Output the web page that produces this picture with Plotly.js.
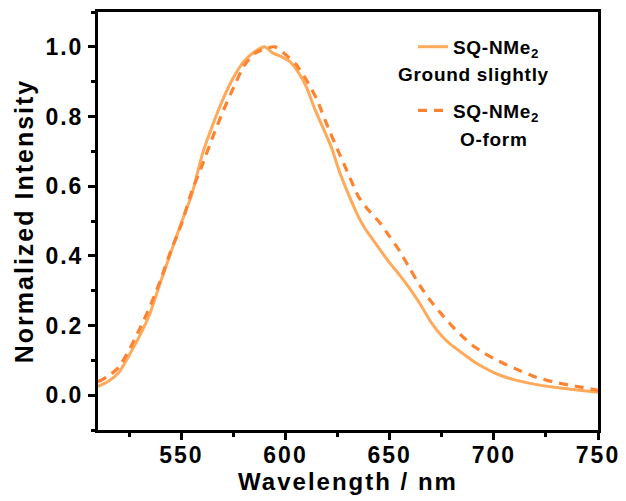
<!DOCTYPE html>
<html>
<head>
<meta charset="utf-8">
<script src="https://cdn.plot.ly/plotly-3.0.1.min.js"></script>
<style>
  html, body { margin: 0; padding: 0; background: #fff; }
  #chart { width: 626px; height: 501px; }
  .xtick text, .ytick text, text.xtitle, text.ytitle { letter-spacing: 2px; }
  text.legendtext, .annotation-text { letter-spacing: 0.7px; }
</style>
</head>
<body>
<div id="chart"></div>
<script>
// Series 1: SQ-NMe2 ground slightly (solid)
const groundWavelength = [510, 515, 520, 525, 530, 535, 540, 545, 550, 555, 560, 565, 570, 575, 580, 585, 590, 594, 598, 602, 606, 610, 614, 618, 622, 626, 630, 634, 638, 642, 646, 650, 655, 660, 665, 670, 675, 680, 685, 690, 695, 700, 705, 710, 720, 730, 740, 750];
const groundIntensity = [0.025, 0.04, 0.065, 0.115, 0.17, 0.235, 0.325, 0.41, 0.495, 0.575, 0.69, 0.775, 0.85, 0.912, 0.958, 0.985, 1.0, 0.982, 0.972, 0.958, 0.928, 0.885, 0.822, 0.768, 0.712, 0.64, 0.58, 0.525, 0.48, 0.446, 0.412, 0.38, 0.343, 0.303, 0.258, 0.208, 0.17, 0.142, 0.12, 0.098, 0.08, 0.065, 0.053, 0.044, 0.031, 0.022, 0.015, 0.008];

// Series 2: SQ-NMe2 O-form (dashed)
const oformWavelength = [510, 515, 520, 525, 530, 535, 540, 545, 550, 555, 560, 565, 570, 575, 580, 585, 590, 595, 600, 605, 610, 615, 620, 625, 630, 635, 640, 645, 650, 655, 660, 665, 670, 675, 680, 685, 690, 695, 700, 705, 710, 720, 730, 740, 750];
const oformIntensity = [0.038, 0.055, 0.08, 0.13, 0.19, 0.255, 0.33, 0.415, 0.49, 0.585, 0.66, 0.74, 0.815, 0.882, 0.945, 0.98, 0.995, 1.0, 0.978, 0.95, 0.905, 0.85, 0.775, 0.705, 0.637, 0.57, 0.53, 0.497, 0.455, 0.412, 0.36, 0.31, 0.268, 0.232, 0.198, 0.168, 0.142, 0.122, 0.105, 0.09, 0.077, 0.052, 0.036, 0.025, 0.014];

const seriesNames = ["SQ-NMe<sub>2</sub>", "SQ-NMe<sub>2</sub>"];
const seriesSubLabels = ["Ground slightly", "O-form"];
const xTickVals = [550, 600, 650, 700, 750];
const yTickVals = [0.0, 0.2, 0.4, 0.6, 0.8, 1.0];

const fontFam = '"Liberation Sans", Arial, sans-serif';

const traces = [
  {
    x: groundWavelength, y: groundIntensity, type: 'scatter', mode: 'lines',
    name: seriesNames[0], legendgroup: 'g1',
    line: { color: '#FFAA5A', width: 3, shape: 'spline', smoothing: 0.5 }
  },
  {
    x: oformWavelength, y: oformIntensity, type: 'scatter', mode: 'lines',
    name: seriesNames[1], legendgroup: 'g2',
    line: { color: '#FF8230', width: 3.2, dash: '9px,7px', shape: 'spline', smoothing: 0.5 }
  }
];

const axisCommon = {
  showline: true, linecolor: '#000', linewidth: 3, mirror: true,
  ticks: 'outside', tickcolor: '#000', tickwidth: 3, ticklen: 7,
  showgrid: false, zeroline: false,
  tickfont: { family: fontFam, size: 23, color: '#000', weight: 'bold' }
};

const layout = {
  width: 626, height: 501,
  margin: { l: 98, r: 28, t: 12, b: 71 },
  paper_bgcolor: '#fff', plot_bgcolor: '#fff',
  showlegend: true,
  xaxis: Object.assign({}, axisCommon, {
    range: [510, 750], tickvals: xTickVals, ticklabelstandoff: -5,
    minor: { dtick: 25, tick0: 500, ticks: 'outside', ticklen: 4, tickwidth: 3, tickcolor: '#000' },
    title: { text: 'Wavelength / nm', standoff: 4, font: { family: fontFam, size: 24, color: '#000', weight: 'bold' } }
  }),
  yaxis: Object.assign({}, axisCommon, {
    range: [-0.1, 1.1], tickvals: yTickVals, tickformat: '.1f',
    minor: { dtick: 0.1, tick0: 0, ticks: 'outside', ticklen: 4, tickwidth: 3, tickcolor: '#000' },
    title: { text: 'Normalized Intensity', standoff: 5, font: { family: fontFam, size: 25, color: '#000', weight: 'bold' } }
  }),
  legend: {
    x: 0.63, y: 0.962, xanchor: 'left', yanchor: 'top',
    bgcolor: 'rgba(0,0,0,0)', borderwidth: 0,
    tracegroupgap: 36, valign: 'middle',
    font: { family: fontFam, size: 19, color: '#000', weight: 'bold' }
  },
  annotations: [
    { xref: 'paper', yref: 'paper', x: 0.751, y: 0.851, xanchor: 'center', yanchor: 'middle',
      text: seriesSubLabels[0], showarrow: false,
      font: { family: fontFam, size: 19, color: '#000', weight: 'bold' } },
    { xref: 'paper', yref: 'paper', x: 0.792, y: 0.694, xanchor: 'center', yanchor: 'middle',
      text: seriesSubLabels[1], showarrow: false,
      font: { family: fontFam, size: 19, color: '#000', weight: 'bold' } }
  ]
};

Plotly.newPlot('chart', traces, layout, { displayModeBar: false, staticPlot: true });
</script>
</body>
</html>
